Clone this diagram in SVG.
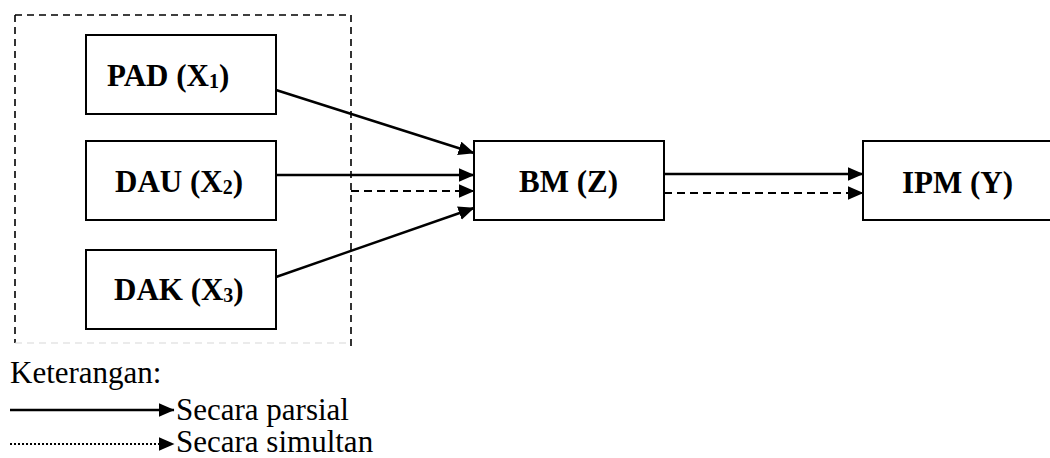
<svg xmlns="http://www.w3.org/2000/svg" width="1050" height="458" viewBox="0 0 1050 458">
  <style>
    .box { fill: #fff; stroke: #000; stroke-width: 2; }
    .lbl { font-family: "Liberation Serif", "Times New Roman", serif; font-size: 31px; font-weight: bold; fill: #000; }
    .sub { font-size: 20px; }
    .solid { stroke: #000; stroke-width: 2.4; fill: none; marker-end: url(#tri); }
    .dash { stroke: #000; stroke-width: 2.2; stroke-dasharray: 8 5; fill: none; marker-end: url(#tri); }
    .dot { stroke: #000; stroke-width: 2; stroke-dasharray: 2 2; fill: none; marker-end: url(#tri); }
    .note { font-family: "Liberation Serif", "Times New Roman", serif; font-size: 31px; fill: #000; }
  </style>
  <defs>
    <marker id="tri" markerUnits="userSpaceOnUse" markerWidth="17" markerHeight="15" refX="15.5" refY="7" orient="auto">
      <path d="M0,0 L16,7 L0,14 Z" fill="#000"/>
    </marker>
  </defs>

  <rect width="1050" height="458" fill="#fff"/>

  <!-- grouping frame around the three independent variables -->
  <g id="frame" fill="none">
    <path d="M15,15 H351 V350" stroke="#000" stroke-width="1.6" stroke-dasharray="7 5"/>
    <path d="M15,15 V343" stroke="#000" stroke-width="1.6" stroke-dasharray="7 5"/>
    <path d="M15,343 H351" stroke="#d8d8d8" stroke-width="1.2" stroke-dasharray="7 5"/>
  </g>

  <g id="pad">
    <rect class="box" x="86" y="35" width="190" height="79"/>
    <text class="lbl" x="107" y="86">PAD (X<tspan class="sub" dy="2">1</tspan><tspan dy="-2">)</tspan></text>
  </g>
  <g id="dau">
    <rect class="box" x="86" y="141" width="190" height="79"/>
    <text class="lbl" x="115" y="192">DAU (X<tspan class="sub" dy="2">2</tspan><tspan dy="-2">)</tspan></text>
  </g>
  <g id="dak">
    <rect class="box" x="86" y="250" width="190" height="79"/>
    <text class="lbl" x="114" y="300">DAK (X<tspan class="sub" dy="2">3</tspan><tspan dy="-2">)</tspan></text>
  </g>
  <g id="bm">
    <rect class="box" x="474" y="141" width="190" height="79"/>
    <text class="lbl" x="519" y="192">BM (Z)</text>
  </g>
  <g id="ipm">
    <rect class="box" x="863" y="141" width="200" height="79"/>
    <text class="lbl" x="902" y="193">IPM (Y)</text>
  </g>

  <g id="connectors">
    <line class="solid" x1="276" y1="90" x2="474" y2="153"/>
    <line class="solid" x1="276" y1="175" x2="474" y2="175"/>
    <line class="dash" x1="351" y1="191" x2="474" y2="191"/>
    <line class="solid" x1="276" y1="277" x2="474" y2="208"/>
    <line class="solid" x1="664" y1="174" x2="863" y2="174"/>
    <line class="dash" x1="664" y1="193" x2="863" y2="193"/>
  </g>

  <g id="legend">
    <text class="note" x="10" y="383">Keterangan:</text>
    <line class="solid" x1="10" y1="410" x2="174" y2="410"/>
    <text class="note" x="176" y="420">Secara parsial</text>
    <line class="dot" x1="10" y1="444" x2="174" y2="444"/>
    <text class="note" x="176" y="452">Secara simultan</text>
  </g>
</svg>
